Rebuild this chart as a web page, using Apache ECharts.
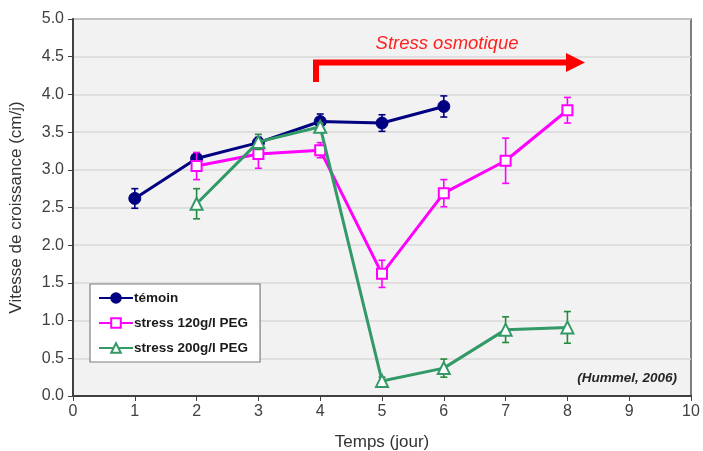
<!DOCTYPE html>
<html>
<head>
<meta charset="utf-8">
<script src="https://cdn.jsdelivr.net/npm/echarts@6/dist/echarts.min.js"></script>
<style>
  html, body { margin: 0; padding: 0; background: #ffffff; }
  #chart { width: 703px; height: 451px; }
</style>
</head>
<body>
<div id="chart"></div>
<script>
// Growth rate (cm/day) over time (days), mean and error per day
const temoinDays = [1, 2, 3, 4, 5, 6];
const temoinVals = [2.62, 3.15, 3.36, 3.64, 3.62, 3.84];
const temoinErr  = [0.13, 0.07, 0.07, 0.10, 0.11, 0.14];

const peg120Days = [2, 3, 4, 5, 6, 7, 8];
const peg120Vals = [3.05, 3.21, 3.26, 1.62, 2.69, 3.12, 3.79];
const peg120Err  = [0.18, 0.19, 0.10, 0.18, 0.18, 0.30, 0.17];

const peg200Days = [2, 3, 4, 5, 6, 7, 8];
const peg200Vals = [2.55, 3.37, 3.57, 0.20, 0.37, 0.88, 0.91];
const peg200Err  = [0.20, 0.10, 0.05, 0.05, 0.12, 0.17, 0.21];

const seriesNames = ['témoin', 'stress 120g/l PEG', 'stress 200g/l PEG'];
const xTicks = [0, 1, 2, 3, 4, 5, 6, 7, 8, 9, 10];
const yTicks = [0, 0.5, 1, 1.5, 2, 2.5, 3, 3.5, 4, 4.5, 5];

const navy = '#000080';
const pink = '#ff00ff';
const green = '#339966';
const greenBar = '#228b3c';

function pairs(xs, ys) { return xs.map((x, i) => [x, ys[i]]); }
function errData(xs, ys, es) { return xs.map((x, i) => [x, ys[i] - es[i], ys[i] + es[i]]); }

function errorBars(color) {
  return function (params, api) {
    const x = api.value(0);
    const lo = api.coord([x, api.value(1)]);
    const hi = api.coord([x, api.value(2)]);
    const cap = 3.5;
    const style = { stroke: color, lineWidth: 1.6, fill: null };
    return {
      type: 'group',
      children: [
        { type: 'line', shape: { x1: lo[0], y1: lo[1], x2: hi[0], y2: hi[1] }, style },
        { type: 'line', shape: { x1: lo[0] - cap, y1: lo[1], x2: lo[0] + cap, y2: lo[1] }, style },
        { type: 'line', shape: { x1: hi[0] - cap, y1: hi[1], x2: hi[0] + cap, y2: hi[1] }, style }
      ]
    };
  };
}

const chart = echarts.init(document.getElementById('chart'), null, { renderer: 'canvas' });

const fontFam = 'Liberation Sans, Arial, sans-serif';
const tickFont = { fontFamily: fontFam, fontSize: 16, color: '#404040' };
const titleFont = { fontFamily: fontFam, fontSize: 17, color: '#333333' };

chart.setOption({
  animation: false,
  backgroundColor: '#ffffff',
  grid: {
    left: 73, top: 19, right: 12, bottom: 55,
    outerBoundsMode: 'none',
    containLabel: false,
    show: true, backgroundColor: '#f2f2f2', borderColor: '#555555', borderWidth: 1.5
  },
  xAxis: {
    type: 'value', min: xTicks[0], max: xTicks[xTicks.length - 1], interval: 1,
    name: 'Temps (jour)', nameLocation: 'middle', nameGap: 38,
    nameTextStyle: titleFont,
    axisLine: { show: true, onZero: false, lineStyle: { color: '#404040', width: 2 } },
    axisTick: { show: true, length: 5, lineStyle: { color: '#404040', width: 1 } },
    axisLabel: Object.assign({}, tickFont, { margin: 8 }),
    splitLine: { show: false }
  },
  yAxis: {
    type: 'value', min: yTicks[0], max: yTicks[yTicks.length - 1], interval: 0.5,
    name: 'Vitesse de croissance (cm/j)', nameLocation: 'middle', nameGap: 48,
    nameTextStyle: titleFont,
    axisLine: { show: true, lineStyle: { color: '#404040', width: 2 } },
    axisTick: { show: true, length: 5, lineStyle: { color: '#404040', width: 1 } },
    axisLabel: Object.assign({}, tickFont, { margin: 9, formatter: v => v.toFixed(1) }),
    splitLine: { show: true, lineStyle: { color: '#d9d9d9', width: 1.5 } }
  },
  legend: {
    data: seriesNames,
    orient: 'vertical',
    left: 90, top: 284,
    padding: [7, 12, 7, 8],
    itemGap: 11,
    itemWidth: 34, itemHeight: 12,
    backgroundColor: '#ffffff',
    borderColor: '#7f7f7f', borderWidth: 1.2,
    textStyle: { fontFamily: fontFam, fontSize: 13.5, fontWeight: 'bold', color: '#1a1a1a', padding: [0, 0, 0, -4] }
  },
  graphic: [
    // "Stress osmotique" arrow and title
    { type: 'polyline', z: 100,
      shape: { points: [[316, 82], [316, 62.5], [568, 62.5]] },
      style: { stroke: '#ff0000', lineWidth: 6, fill: null, lineJoin: 'miter' } },
    { type: 'polygon', z: 100,
      shape: { points: [[566, 53], [585, 62.5], [566, 72]] },
      style: { fill: '#ff0000' } },
    { type: 'text', z: 100, x: 447, y: 44,
      style: { text: 'Stress osmotique', fill: '#ff2020', fontSize: 18.5, fontStyle: 'italic',
               fontFamily: fontFam, align: 'center', verticalAlign: 'middle' } },
    { type: 'text', z: 100, x: 677, y: 378,
      style: { text: '(Hummel, 2006)', fill: '#262626', fontSize: 13.5, fontStyle: 'italic', fontWeight: 'bold',
               fontFamily: fontFam, align: 'right', verticalAlign: 'middle' } }
  ],
  series: [
    { name: 'err-temoin', type: 'custom', renderItem: errorBars(navy), data: errData(temoinDays, temoinVals, temoinErr), z: 2 },
    { name: seriesNames[0], type: 'line', data: pairs(temoinDays, temoinVals), z: 3,
      symbol: 'circle', symbolSize: 12,
      lineStyle: { color: navy, width: 3 },
      itemStyle: { color: navy, borderColor: navy, borderWidth: 1 } },
    { name: 'err-120', type: 'custom', renderItem: errorBars(pink), data: errData(peg120Days, peg120Vals, peg120Err), z: 4 },
    { name: seriesNames[1], type: 'line', data: pairs(peg120Days, peg120Vals), z: 5,
      symbol: 'rect', symbolSize: 10,
      lineStyle: { color: pink, width: 3 },
      itemStyle: { color: '#ffffff', borderColor: pink, borderWidth: 2 } },
    { name: 'err-200', type: 'custom', renderItem: errorBars(greenBar), data: errData(peg200Days, peg200Vals, peg200Err), z: 6 },
    { name: seriesNames[2], type: 'line', data: pairs(peg200Days, peg200Vals), z: 7,
      symbol: 'triangle', symbolSize: 12,
      lineStyle: { color: green, width: 3 },
      itemStyle: { color: '#ffffff', borderColor: green, borderWidth: 2 } }
  ]
});
</script>
</body>
</html>
